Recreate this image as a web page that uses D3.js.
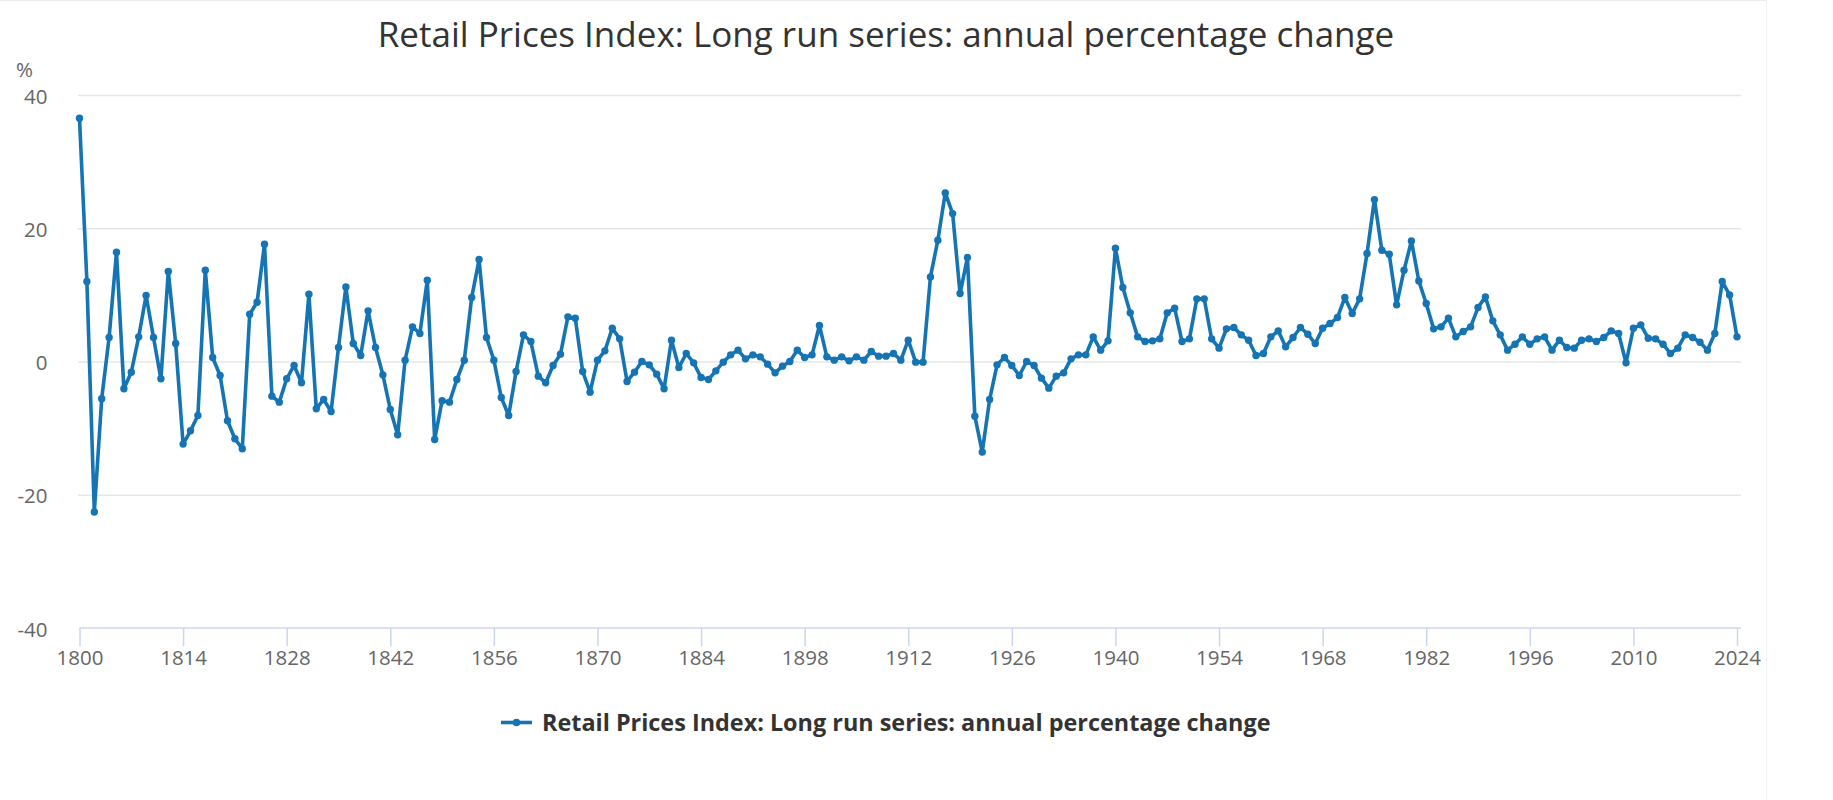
<!DOCTYPE html>
<html>
<head>
<meta charset="utf-8">
<script src="https://cdn.jsdelivr.net/npm/d3@7"></script>
<style>
  html, body { margin: 0; padding: 0; background: #fff; }
  svg { display: block; font-family: "Open Sans", "Noto Sans", sans-serif; }
</style>
</head>
<body>
<svg id="chart" width="1833" height="800"></svg>
<script>
const chartTitle = "Retail Prices Index: Long run series: annual percentage change";
const seriesName = "Retail Prices Index: Long run series: annual percentage change";
const yUnit = "%";
const startYear = 1800;
const endYear = 2024;
const xTickYears = [1800, 1814, 1828, 1842, 1856, 1870, 1884, 1898, 1912, 1926, 1940, 1954, 1968, 1982, 1996, 2010, 2024];
const yTickValues = [-40, -20, 0, 20, 40];
const values = [
  36.5, 12.0, -22.6, -5.6, 3.6, 16.4, -4.1, -1.6, 3.7, 9.9,
  3.6, -2.6, 13.5, 2.7, -12.4, -10.4, -8.1, 13.7, 0.6, -2.1,
  -8.9, -11.6, -13.1, 7.1, 8.9, 17.6, -5.2, -6.1, -2.6, -0.6,
  -3.2, 10.1, -7.1, -5.7, -7.5, 2.1, 11.2, 2.7, 0.9, 7.6,
  2.1, -2.0, -7.2, -11.0, 0.2, 5.2, 4.2, 12.2, -11.7, -5.9,
  -6.1, -2.7, 0.2, 9.6, 15.3, 3.6, 0.2, -5.4, -8.1, -1.5,
  4.0, 3.0, -2.2, -3.2, -0.6, 1.1, 6.7, 6.5, -1.5, -4.6,
  0.2, 1.6, 5.0, 3.4, -3.0, -1.6, 0.0, -0.5, -1.9, -4.1,
  3.2, -0.9, 1.2, -0.2, -2.4, -2.7, -1.4, -0.1, 1.0, 1.7,
  0.4, 1.0, 0.7, -0.4, -1.7, -0.7, 0.0, 1.7, 0.6, 1.0,
  5.4, 0.7, 0.2, 0.7, 0.1, 0.7, 0.2, 1.5, 0.8, 0.8,
  1.2, 0.2, 3.2, -0.1, -0.1, 12.7, 18.2, 25.3, 22.2, 10.2,
  15.6, -8.2, -13.6, -5.7, -0.5, 0.6, -0.6, -2.1, 0.0, -0.6,
  -2.5, -4.0, -2.2, -1.7, 0.4, 1.0, 1.0, 3.7, 1.7, 3.1,
  17.0, 11.1, 7.3, 3.7, 3.0, 3.1, 3.4, 7.3, 8.0, 3.0,
  3.4, 9.4, 9.4, 3.4, 2.0, 4.9, 5.1, 4.0, 3.2, 0.9,
  1.2, 3.7, 4.6, 2.2, 3.6, 5.1, 4.1, 2.7, 5.0, 5.7,
  6.6, 9.6, 7.2, 9.4, 16.2, 24.3, 16.7, 16.1, 8.5, 13.7,
  18.1, 12.1, 8.7, 4.9, 5.2, 6.5, 3.7, 4.5, 5.2, 8.1,
  9.7, 6.1, 4.0, 1.7, 2.6, 3.7, 2.6, 3.4, 3.7, 1.7,
  3.2, 2.1, 2.0, 3.2, 3.4, 3.0, 3.6, 4.6, 4.2, -0.2,
  5.0, 5.5, 3.5, 3.4, 2.6, 1.2, 2.0, 4.0, 3.6, 2.9,
  1.7, 4.2, 12.0, 10.0, 3.7
];
const years = d3.range(startYear, endYear + 1);
const data = years.map((y, i) => ({ year: y, value: values[i] }));

const lineColor = "#1474b4";
const svg = d3.select("#chart");
const W = 1833, H = 800;
const plot = { left: 79.5, right: 1737, gridRight: 1741, top: 95, bottom: 628 };

const x = d3.scaleLinear().domain([startYear, endYear]).range([plot.left, plot.right]);
const y = d3.scaleLinear().domain([-40, 40]).range([plot.bottom, plot.top]);

// faint frame of the screenshot
svg.append("line").attr("x1", 0).attr("x2", 1767).attr("y1", 0.5).attr("y2", 0.5)
  .attr("stroke", "#ececec").attr("stroke-width", 1);
svg.append("line").attr("x1", 1766.5).attr("x2", 1766.5).attr("y1", 0).attr("y2", H)
  .attr("stroke", "#f3f3f3").attr("stroke-width", 1);

// title
svg.append("text").attr("x", 886).attr("y", 47).attr("text-anchor", "middle")
  .attr("font-size", 35).attr("fill", "#333").text(chartTitle);

// gridlines + y labels
const yAxis = d3.axisLeft(y).tickValues(yTickValues).tickSize(-(plot.gridRight - plot.left)).tickPadding(32)
  .tickFormat(d => String(d));
const gy = svg.append("g").attr("transform", `translate(${plot.left},0)`).call(yAxis);
gy.select(".domain").remove();
gy.selectAll(".tick line").attr("stroke", "#e6e6e6").attr("stroke-width", 1.5).attr("x1", -1.5);
gy.selectAll(".tick").filter(d => d === -40).select("line").remove();
gy.selectAll(".tick text").attr("font-size", 20.5).attr("fill", "#666").attr("dy", "0.4em")
  .attr("font-family", "'Open Sans', sans-serif");

svg.append("text").attr("x", 16).attr("y", 77).attr("font-size", 20.5).attr("fill", "#666").text(yUnit);

// x axis
const xAxis = d3.axisBottom(x).tickValues(xTickYears).tickSize(18).tickPadding(4).tickFormat(d => String(d));
const gx = svg.append("g").attr("transform", `translate(0,${plot.bottom})`).call(xAxis);
gx.select(".domain").attr("stroke", "#ccd6eb").attr("stroke-width", 1.5)
  .attr("d", `M${plot.left},0H${plot.gridRight}`);
gx.selectAll(".tick line").attr("stroke", "#ccd6eb").attr("stroke-width", 1.5);
gx.selectAll(".tick text").attr("font-size", 20.5).attr("fill", "#666")
  .attr("font-family", "'Open Sans', sans-serif");

// line + markers
const line = d3.line().x(d => x(d.year)).y(d => y(d.value));
svg.append("path").datum(data).attr("d", line).attr("fill", "none")
  .attr("stroke", lineColor).attr("stroke-width", 3.6).attr("stroke-linejoin", "round");
svg.append("g").selectAll("circle").data(data).join("circle")
  .attr("cx", d => x(d.year)).attr("cy", d => y(d.value)).attr("r", 3.7).attr("fill", lineColor);

// legend
const lg = svg.append("g").attr("transform", "translate(501,722.5)");
lg.append("line").attr("x1", 0).attr("x2", 31).attr("y1", 0).attr("y2", 0)
  .attr("stroke", lineColor).attr("stroke-width", 3.6);
lg.append("circle").attr("cx", 15.5).attr("cy", 0).attr("r", 3.8).attr("fill", lineColor);
lg.append("text").attr("x", 41).attr("y", 0).attr("dy", "0.35em").attr("font-size", 23.4)
  .attr("font-weight", "bold").attr("fill", "#333").text(seriesName);
</script>
</body>
</html>
